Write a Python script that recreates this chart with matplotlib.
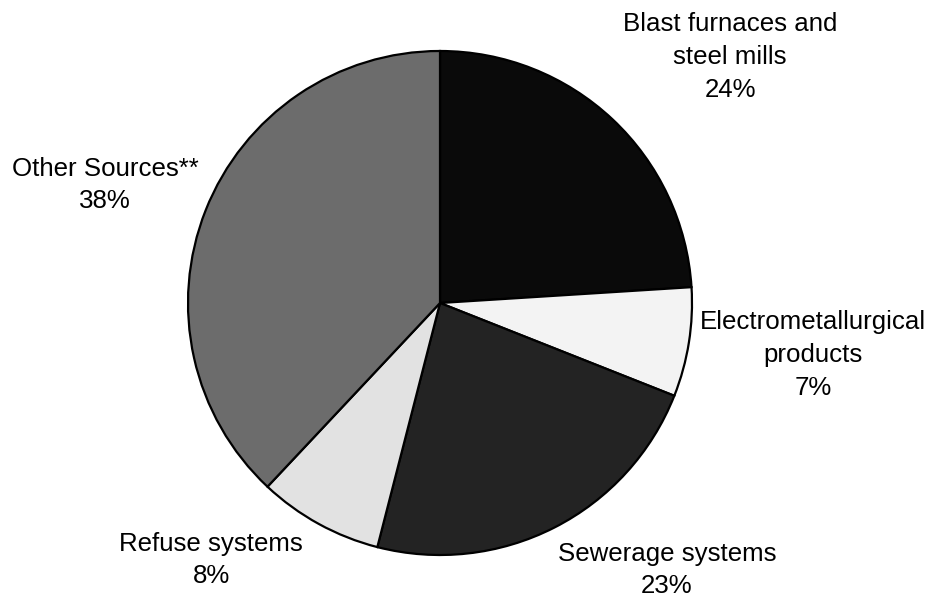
import matplotlib.pyplot as plt

plt.rcParams['font.family'] = ['Liberation Sans', 'DejaVu Sans']

labels = ['Blast furnaces and\nsteel mills', 'Electrometallurgical\nproducts',
          'Sewerage systems', 'Refuse systems', 'Other Sources**']
shares = [24, 7, 23, 8, 38]
colors = ['#0a0a0a', '#f3f3f3', '#232323', '#e2e2e2', '#6c6c6c']
# label block centres in pixels (x, y from top)
label_pos = [(730, 57), (813, 355), (667, 570), (211, 560), (105, 185)]

W, H = 930, 598
fig = plt.figure(figsize=(W / 100, H / 100), dpi=100)
ax = fig.add_axes([0, 0, 1, 1])
ax.set_xlim(0, W)
ax.set_ylim(0, H)
ax.set_aspect('equal')
ax.axis('off')

ax.pie(shares, colors=colors, startangle=90, counterclock=False,
       center=(440, H - 303), radius=252,
       wedgeprops=dict(edgecolor='black', linewidth=1.6))

for lab, v, (x, y) in zip(labels, shares, label_pos):
    ax.text(x, H - y, f'{lab}\n{v}%', ha='center', va='center',
            fontsize=18.6, linespacing=1.46, color='black')

ax.set_xlim(0, W)
ax.set_ylim(0, H)
fig.savefig('out.png', dpi=100)
